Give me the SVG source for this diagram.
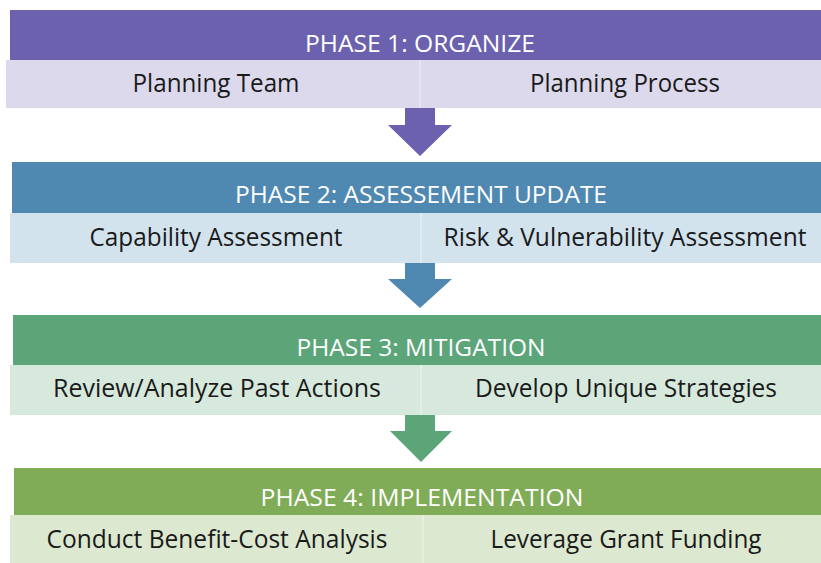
<svg xmlns="http://www.w3.org/2000/svg" width="821" height="563" viewBox="0 0 821 563">
<style>
.hd{font-family:"Open Sans","Liberation Sans",sans-serif;font-size:23px;fill:#ffffff;}
.sb{font-family:"Open Sans","Liberation Sans",sans-serif;font-size:26px;fill:#1a1a1a;}
.p1{fill:#6b61ae}.s1{fill:#dcd9ec}
.p2{fill:#4f89b1}.s2{fill:#d3e3ee}
.p3{fill:#5ba579}.s3{fill:#d6e9dc}
.p4{fill:#80ac57}.s4{fill:#dce9d0}
.gap{stroke:#ffffff;stroke-width:1.2;opacity:0.5}
</style>
<rect width="821" height="563" fill="#ffffff"/>
<g id="connectors">
<polygon class="p1" points="405,108 435,108 435,125 452,125 420,156 388,125 405,125"/>
<polygon class="p2" points="405,263 435,263 435,279 452,279 420,308 388,279 405,279"/>
<polygon class="p3" points="405,415 435,415 435,431 452,431 421,462 390,431 405,431"/>
</g>
<g id="phase1">
<rect class="p1" x="10" y="10" width="811" height="50"/>
<text class="hd" x="420" y="52" text-anchor="middle" textLength="230" lengthAdjust="spacingAndGlyphs">PHASE 1: ORGANIZE</text>
</g>
<g id="planning-team">
<rect class="s1" x="6" y="60" width="414" height="48"/>
<text class="sb" x="216" y="92" text-anchor="middle" textLength="167" lengthAdjust="spacingAndGlyphs">Planning Team</text>
</g>
<g id="planning-process">
<rect class="s1" x="420" y="60" width="401" height="48"/>
<line class="gap" x1="420" y1="60" x2="420" y2="108"/>
<text class="sb" x="625" y="92" text-anchor="middle" textLength="190" lengthAdjust="spacingAndGlyphs">Planning Process</text>
</g>
<g id="phase2">
<rect class="p2" x="12" y="162" width="809" height="51"/>
<text class="hd" x="421" y="203" text-anchor="middle" textLength="372" lengthAdjust="spacingAndGlyphs">PHASE 2: ASSESSEMENT UPDATE</text>
</g>
<g id="capability-assessment">
<rect class="s2" x="10" y="213" width="411" height="50"/>
<text class="sb" x="216" y="246" text-anchor="middle" textLength="253" lengthAdjust="spacingAndGlyphs">Capability Assessment</text>
</g>
<g id="risk-assessment">
<rect class="s2" x="421" y="213" width="400" height="50"/>
<line class="gap" x1="421" y1="213" x2="421" y2="263"/>
<text class="sb" x="625" y="246" text-anchor="middle" textLength="363" lengthAdjust="spacingAndGlyphs">Risk &amp; Vulnerability Assessment</text>
</g>
<g id="phase3">
<rect class="p3" x="13" y="315" width="808" height="50"/>
<text class="hd" x="421" y="356" text-anchor="middle" textLength="249" lengthAdjust="spacingAndGlyphs">PHASE 3: MITIGATION</text>
</g>
<g id="past-actions">
<rect class="s3" x="10" y="365" width="411" height="50"/>
<text class="sb" x="217" y="397" text-anchor="middle" textLength="328" lengthAdjust="spacingAndGlyphs">Review/Analyze Past Actions</text>
</g>
<g id="unique-strategies">
<rect class="s3" x="421" y="365" width="400" height="50"/>
<line class="gap" x1="421" y1="365" x2="421" y2="415"/>
<text class="sb" x="626" y="397" text-anchor="middle" textLength="302" lengthAdjust="spacingAndGlyphs">Develop Unique Strategies</text>
</g>
<g id="phase4">
<rect class="p4" x="14" y="468" width="807" height="47"/>
<text class="hd" x="422" y="506" text-anchor="middle" textLength="323" lengthAdjust="spacingAndGlyphs">PHASE 4: IMPLEMENTATION</text>
</g>
<g id="benefit-cost">
<rect class="s4" x="10" y="515" width="413" height="48"/>
<text class="sb" x="217" y="548" text-anchor="middle" textLength="341" lengthAdjust="spacingAndGlyphs">Conduct Benefit-Cost Analysis</text>
</g>
<g id="grant-funding">
<rect class="s4" x="423" y="515" width="398" height="48"/>
<line class="gap" x1="423" y1="515" x2="423" y2="563"/>
<text class="sb" x="626" y="548" text-anchor="middle" textLength="271" lengthAdjust="spacingAndGlyphs">Leverage Grant Funding</text>
</g>
</svg>
